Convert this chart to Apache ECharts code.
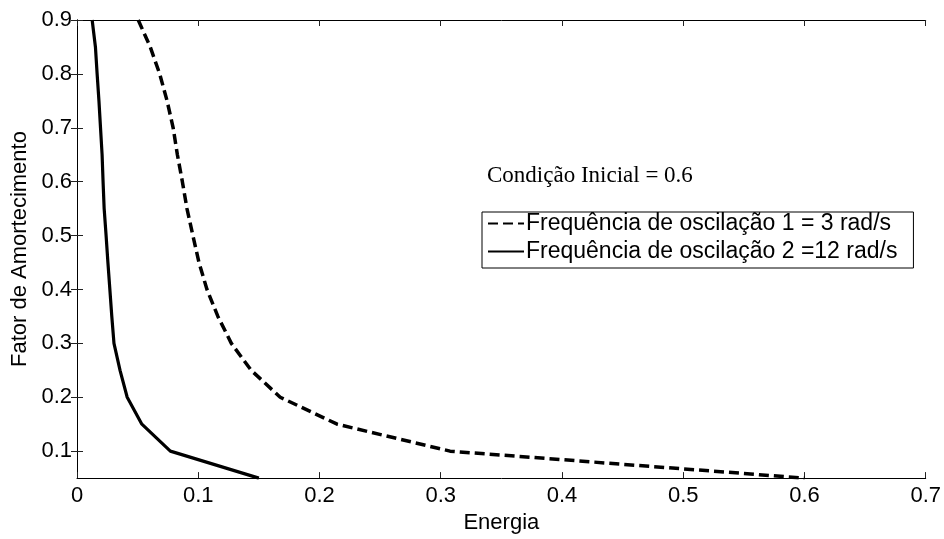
<!DOCTYPE html>
<html>
<head>
<meta charset="utf-8">
<script src="https://cdn.jsdelivr.net/npm/echarts@6/dist/echarts.min.js"></script>
<style>html,body{margin:0;padding:0;background:#fff;}#chart{width:944px;height:539px;}</style>
</head>
<body>
<div id="chart"></div>
<script>
// Damping factor levels (y) shared by both curves
const damping = [0.9, 0.85, 0.8, 0.75, 0.7, 0.65, 0.6, 0.55, 0.5, 0.45, 0.4, 0.35, 0.3, 0.25, 0.2, 0.15, 0.1, 0.05];
// Energy for frequency 1 = 3 rad/s (dashed)
const energyFreq1 = [0.0505, 0.0604, 0.0682, 0.0743, 0.0793, 0.0828, 0.0869, 0.0907, 0.0956, 0.1006, 0.1072, 0.1162, 0.1273, 0.1437, 0.1676, 0.2146, 0.3077, 0.600];
// Energy for frequency 2 = 12 rad/s (solid)
const energyFreq2 = [0.0125, 0.0152, 0.0166, 0.0181, 0.0194, 0.0207, 0.0215, 0.0224, 0.024, 0.0255, 0.0271, 0.0287, 0.0305, 0.0355, 0.0414, 0.0535, 0.077, 0.150];
const seriesNames = ['Frequência de oscilação 1 = 3 rad/s', 'Frequência de oscilação 2 =12 rad/s'];
const yTicks = [0.1, 0.2, 0.3, 0.4, 0.5, 0.6, 0.7, 0.8, 0.9];
const annotation = 'Condição Inicial = 0.6';

const pairs = (xs, ys) => xs.map((x, i) => [x, ys[i]]);
const font = 'Liberation Sans, Arial, sans-serif';
const axisLine = { show: true, lineStyle: { color: '#000', width: 1 } };
const tick = { show: true, inside: true, length: 6, lineStyle: { color: '#222', width: 1 } };

const chart = echarts.init(document.getElementById('chart'), null, { renderer: 'canvas' });
chart.setOption({
  animation: false,
  backgroundColor: '#fff',
  grid: { left: 77, right: 18, top: 20, bottom: 55, containLabel: false },
  xAxis: [
    {
      type: 'value', min: 0, max: 0.7, interval: 0.1, position: 'bottom',
      name: 'Energia', nameLocation: 'middle', nameGap: 30,
      nameTextStyle: { fontFamily: font, fontSize: 22, color: '#000' },
      axisLine: axisLine, axisTick: tick, splitLine: { show: false },
      axisLabel: { fontFamily: font, fontSize: 22, color: '#000', margin: 7,
        formatter: v => (Math.round(v * 10) / 10).toString() }
    },
    {
      type: 'value', min: 0, max: 0.7, interval: 0.1, position: 'top',
      axisLine: axisLine, axisTick: tick, splitLine: { show: false },
      axisLabel: { show: false }
    }
  ],
  yAxis: [
    {
      type: 'value', min: 0.05, max: 0.9, position: 'left',
      name: 'Fator de Amortecimento', nameLocation: 'middle', nameGap: 44,
      nameTextStyle: { fontFamily: font, fontSize: 22, color: '#000' },
      axisLine: axisLine, splitLine: { show: false },
      axisTick: Object.assign({}, tick, { customValues: yTicks }),
      axisLabel: { fontFamily: font, fontSize: 22, color: '#000', margin: 5,
        customValues: yTicks, formatter: v => v.toFixed(1) }
    },
    {
      type: 'value', min: 0.05, max: 0.9, position: 'right',
      axisLine: axisLine, splitLine: { show: false },
      axisTick: Object.assign({}, tick, { customValues: yTicks }),
      axisLabel: { show: false }
    }
  ],
  legend: {
    orient: 'vertical', left: 482, top: 212,
    padding: [0, 16, 5, 5], itemGap: 5, itemWidth: 36, itemHeight: 14,
    backgroundColor: '#fff', borderColor: '#000', borderWidth: 1, borderRadius: 0,
    itemStyle: { color: 'rgba(0,0,0,0)', borderWidth: 0, opacity: 0 },
    textStyle: { fontFamily: font, fontSize: 23, color: '#000', padding: [0, 0, 0, -3] },
    data: seriesNames
  },
  graphic: [{
    type: 'text', left: 487, top: 164,
    style: { text: annotation, font: '23px "Liberation Serif", "Times New Roman", serif', fill: '#000' }
  }],
  series: [
    {
      name: seriesNames[0], type: 'line', data: pairs(energyFreq1, damping),
      symbol: 'none', showSymbol: false, smooth: false,
      lineStyle: { color: '#000', width: 3.5, type: [10, 5] }, itemStyle: { color: '#000' }
    },
    {
      name: seriesNames[1], type: 'line', data: pairs(energyFreq2, damping),
      symbol: 'none', showSymbol: false, smooth: false,
      lineStyle: { color: '#000', width: 3.2, type: 'solid' }, itemStyle: { color: '#000' }
    }
  ]
});
</script>
</body>
</html>
